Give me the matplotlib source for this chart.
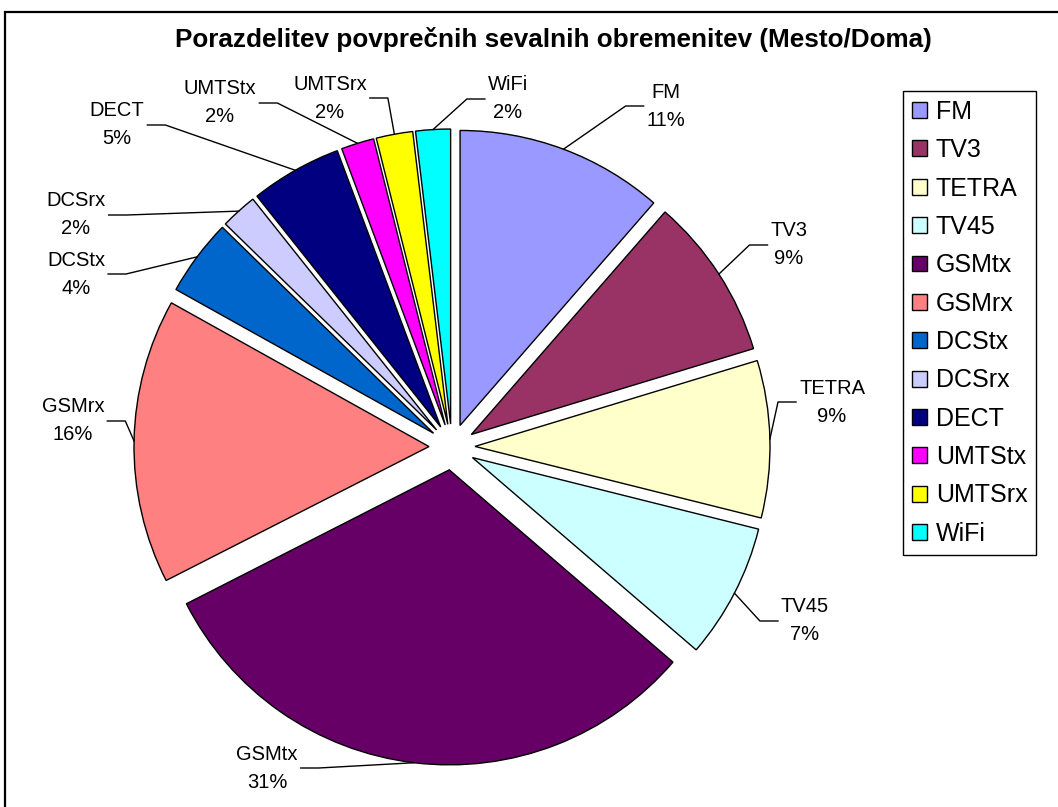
import numpy as np
import matplotlib.pyplot as plt
from matplotlib.patches import Rectangle

plt.rcParams['font.family'] = ['Liberation Sans', 'DejaVu Sans']

W, H = 1058, 807

# data
categories = ["FM", "TV3", "TETRA", "TV45", "GSMtx", "GSMrx",
              "DCStx", "DCSrx", "DECT", "UMTStx", "UMTSrx", "WiFi"]
shares = [11.4, 8.9, 8.6, 7.4, 31.2, 15.6, 4.2, 2.0, 5.0, 1.8, 2.0, 1.9]
colors = ["#9999FF", "#993366", "#FFFFCC", "#CCFFFF", "#660066", "#FF8080",
          "#0066CC", "#CCCCFF", "#000080", "#FF00FF", "#FFFF00", "#00FFFF"]
title = "Porazdelitev povprečnih sevalnih obremenitev (Mesto/Doma)"

# layout: label block centres in pixels (from top-left), like Excel placed them
label_pos = [(666, 106), (789, 245), (832, 402), (805, 621), (267, 768), (73, 421),
             (76, 274), (76, 215), (117, 125), (220, 103), (330, 98), (508, 99)]
pie_center = (452, H - 447)
pie_radius = 295
explode_px = 23

fig = plt.figure(figsize=(W / 100, H / 100), dpi=100)
ax = fig.add_axes([0, 0, 1, 1])

wedges, _ = ax.pie(shares, colors=colors, startangle=90, counterclock=False,
                   explode=[explode_px] * len(shares), radius=pie_radius,
                   center=pie_center,
                   wedgeprops=dict(edgecolor="black", linewidth=1))
ax.set_xlim(0, W)
ax.set_ylim(0, H)
ax.axis("off")

# outer chart frame
ax.add_patch(Rectangle((5, -20), W + 20, H - 12 + 20, fill=False,
                       edgecolor="black", linewidth=1.6, clip_on=False))

fig.text(553 / W, 1 - 40 / H, title, ha="center", va="center",
         fontsize=18.8, fontweight="bold")

texts = []
for name, val, (lx, ly) in zip(categories, shares, label_pos):
    t = ax.text(lx, H - ly, f"{name}\n{val:.0f}%", ha="center", va="center",
                fontsize=14.5, linespacing=1.6)
    texts.append(t)

# leader lines: arc mid-point -> elbow -> label side
fig.canvas.draw()
renderer = fig.canvas.get_renderer()
for w, t, (lx, ly) in zip(wedges, texts, label_pos):
    mid = np.deg2rad((w.theta1 + w.theta2) / 2)
    px = w.center[0] + w.r * np.cos(mid)
    py = w.center[1] + w.r * np.sin(mid)
    bb = t.get_window_extent(renderer)
    ty = H - ly
    if lx > pie_center[0]:
        sx = bb.x0 - 3
        ex = sx - 18
    else:
        sx = bb.x1 + 3
        ex = sx + 18
    ax.plot([px, ex, sx], [py, ty, ty], color="black", linewidth=1)

leg = ax.legend(wedges, categories, loc="upper left",
                bbox_to_anchor=(903 / W, 1 - 91 / H), bbox_transform=fig.transFigure,
                borderaxespad=0, fontsize=18, handlelength=0.6, handleheight=0.6,
                handletextpad=0.37, labelspacing=0.575, borderpad=0.35,
                fancybox=False, framealpha=1, edgecolor="black")
leg.get_frame().set_linewidth(1)

fig.savefig("out.png", dpi=100)
